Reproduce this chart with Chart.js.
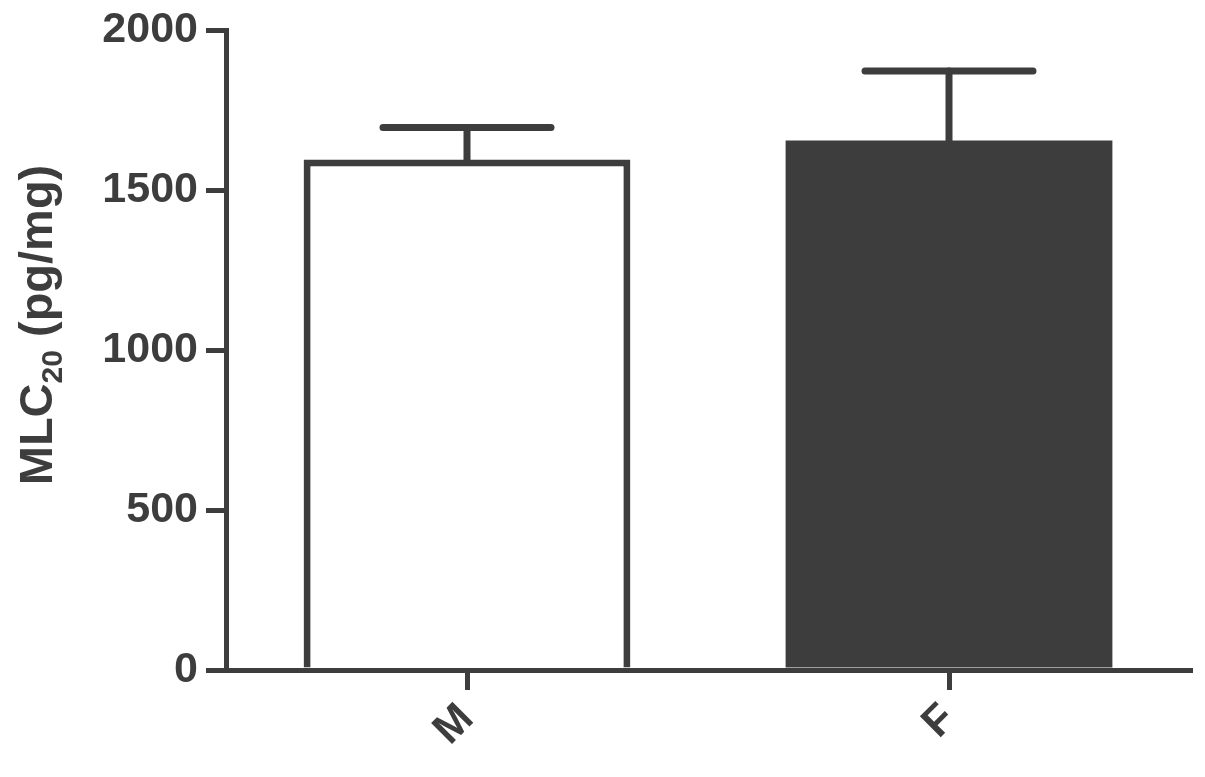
<!DOCTYPE html>
<html>
<head>
<meta charset="utf-8">
<script src="https://cdn.jsdelivr.net/npm/chart.js@4.4.1/dist/chart.umd.min.js"></script>
<style>
html,body{margin:0;padding:0;background:#fff;}
#wrap{width:1205px;height:777px;}
</style>
</head>
<body>
<div id="wrap"><canvas id="c" width="1205" height="777"></canvas></div>
<script>
const categories = ["M", "F"];
const means = [1595, 1655];
const errors = [100, 217];
const yTicks = [0, 500, 1000, 1500, 2000];
const titleMain = "MLC";
const titleSub = "20";
const titleRest = " (pg/mg)";

const ink = "#3d3d3d";
const fontFam = "'Liberation Sans', Arial, sans-serif";

const errorBarPlugin = {
  id: "errorBars",
  afterDatasetsDraw(chart) {
    const ctx = chart.ctx;
    const meta = chart.getDatasetMeta(0);
    const ys = chart.scales.y;
    ctx.save();
    ctx.strokeStyle = ink;
    ctx.lineWidth = 7;
    ctx.lineCap = "round";
    meta.data.forEach((bar, i) => {
      const x = bar.x;
      const yTop = ys.getPixelForValue(means[i] + errors[i]);
      const yBar = ys.getPixelForValue(means[i]);
      const half = bar.width * 0.257;
      ctx.beginPath();
      ctx.moveTo(x, yBar + 3);
      ctx.lineTo(x, yTop);
      ctx.stroke();
      ctx.beginPath();
      ctx.moveTo(x - half, yTop);
      ctx.lineTo(x + half, yTop);
      ctx.stroke();
    });
    ctx.restore();
  }
};

const titlePlugin = {
  id: "yTitle",
  afterDraw(chart) {
    const ctx = chart.ctx;
    ctx.save();
    const big = "bold 47px " + fontFam;
    const small = "bold 30px " + fontFam;
    ctx.font = big;
    const w1 = ctx.measureText(titleMain).width;
    const w3 = ctx.measureText(titleRest).width;
    ctx.font = small;
    const w2 = ctx.measureText(titleSub).width;
    const total = w1 + w2 + w3;
    const cy = 325;
    ctx.translate(52, cy);
    ctx.rotate(-Math.PI / 2);
    ctx.fillStyle = ink;
    ctx.textBaseline = "alphabetic";
    ctx.textAlign = "left";
    let x = -total / 2;
    ctx.font = big;
    ctx.fillText(titleMain, x, 0);
    x += w1;
    ctx.font = small;
    ctx.fillText(titleSub, x, 10);
    x += w2;
    ctx.font = big;
    ctx.fillText(titleRest, x, 0);
    ctx.restore();
  }
};

new Chart(document.getElementById("c"), {
  type: "bar",
  data: {
    labels: categories,
    datasets: [{
      data: means,
      backgroundColor: ["#ffffff", ink],
      borderColor: ink,
      borderWidth: [7, 0],
      borderSkipped: "bottom",
      categoryPercentage: 1.0,
      barPercentage: 0.678
    }]
  },
  options: {
    responsive: false,
    animation: false,
    devicePixelRatio: 1,
    layout: { padding: { left: 0, right: 15, top: 30, bottom: 0 } },
    plugins: { legend: { display: false }, tooltip: { enabled: false } },
    scales: {
      x: {
        offset: true,
        grid: { display: true, drawOnChartArea: false, drawTicks: true, tickLength: 20, offset: false, color: ink, lineWidth: 5 },
        border: { display: true, color: ink, width: 5 },
        ticks: { color: ink, font: { family: fontFam, size: 43, weight: "bold" }, minRotation: 45, maxRotation: 45, padding: 4 },
        afterFit(s) { s.height = 107; }
      },
      y: {
        min: 0, max: 2000,
        afterBuildTicks(s) { s.ticks = yTicks.map(v => ({ value: v })); },
        grid: { display: true, drawOnChartArea: false, drawTicks: true, tickLength: 20, color: ink, lineWidth: 5 },
        border: { display: true, color: ink, width: 5 },
        ticks: { color: ink, font: { family: fontFam, size: 43, weight: "bold" }, padding: 8, callback: v => String(v) },
        afterFit(s) { s.width = 226; s.paddingTop = 0; s.paddingBottom = 0; }
      }
    }
  },
  plugins: [errorBarPlugin, titlePlugin]
});
</script>
</body>
</html>
